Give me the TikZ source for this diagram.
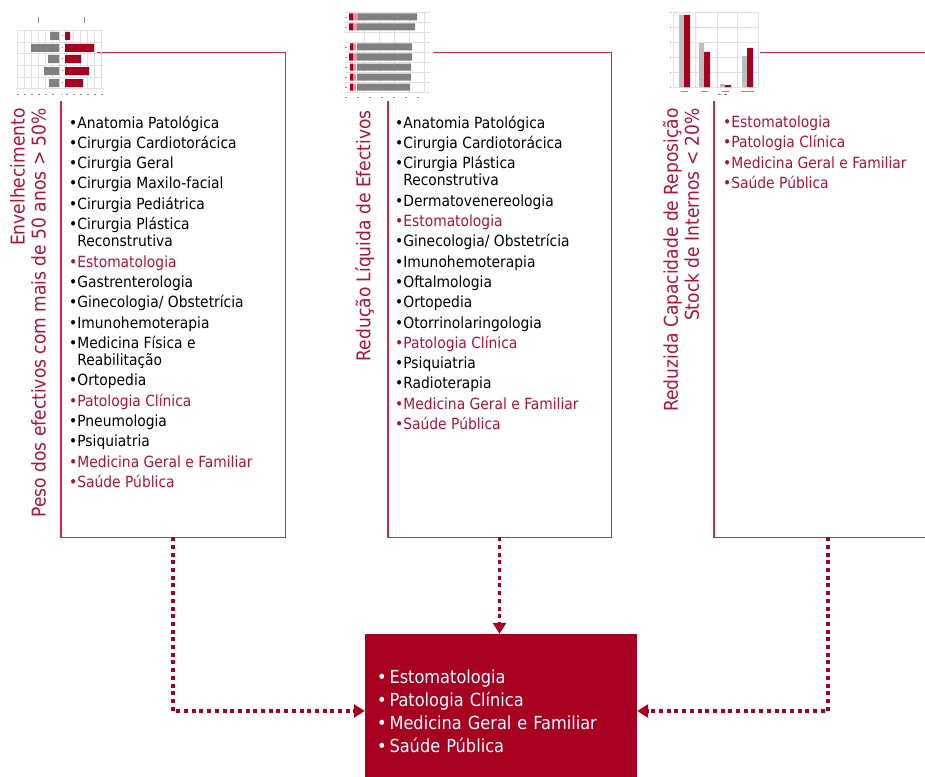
\documentclass[tikz,border=0pt]{standalone}
\usepackage{fontspec}
\setmainfont{DejaVu Sans Condensed}
\usetikzlibrary{arrows.meta,positioning,calc}
\definecolor{SaudeRed}{RGB}{168,0,32}
\definecolor{SaudeText}{RGB}{178,18,50}
\definecolor{SaudeLine}{RGB}{212,36,74}
\definecolor{ChartGray}{RGB}{128,128,128}
\definecolor{ChartLight}{RGB}{190,190,190}
\definecolor{ChartPink}{RGB}{228,150,160}
\newcommand{\spec}[1]{•#1}
\newcommand{\keyspec}[1]{\textcolor{SaudeText}{•#1}}
\newcommand{\wrapline}{\\[-3pt]\phantom{•}}

\begin{document}
\begin{tikzpicture}[
  x=1pt, y=-1pt,
  frame/.style={draw=none, inner sep=0pt, minimum height=484pt},
  frameline/.style={draw=SaudeLine, line width=1.4pt},
  list/.style={anchor=north west, align=left, inner sep=0pt,
    font=\fontsize{15.4}{20.3}\selectfont},
  axis/.style={rotate=90, anchor=north east, align=right, inner sep=0pt,
    text=SaudeText, font=\fontsize{19}{21}\selectfont},
  result/.style={fill=SaudeRed, text=white, align=left, inner xsep=12pt,
    text width=248pt, minimum height=154pt, font=\fontsize{18}{23}\selectfont},
  flow/.style={-{Triangle[length=11pt,width=13pt]}, draw=SaudeRed,
    line width=3.5pt, dash pattern=on 4pt off 3.7pt},
  chartgrid/.style={draw=black!12, line width=0.4pt},
  chartlabel/.style={draw=black!45, line width=0.8pt}
]
\useasboundingbox (0,0) rectangle (925,776);

% frames round the three lists
\node[frame, minimum width=224pt] (box1) at (173,295) {};
\node[frame, minimum width=223pt] (box2) at (499.5,295) {};
\node[frame, minimum width=228pt] (box3) at (828,295) {};
\draw[frameline] ([xshift=36pt]box1.north west) -- (box1.north east) -- (box1.south east)
  -- (box1.south west) -- ([yshift=-48pt]box1.north west);
\draw[frameline] ([xshift=45pt]box2.north west) -- (box2.north east) -- (box2.south east)
  -- (box2.south west) -- ([yshift=-48pt]box2.north west);
\draw[frameline] ([xshift=46pt]box3.north west) -- (box3.north east) -- (box3.south east)
  -- (box3.south west) -- ([yshift=-48pt]box3.north west);

% chart 1: age pyramid
\draw[chartgrid] (17,30) -- (103,30) (17,42) -- (103,42) (17,53) -- (103,53)
  (17,65) -- (103,65) (17,77) -- (103,77) (17,88) -- (103,88);
\draw[chartgrid] (17,30) -- (17,88) (24,30) -- (24,88) (31,30) -- (31,88)
  (38,30) -- (38,88) (45,30) -- (45,88) (52,30) -- (52,88) (59,30) -- (59,88)
  (66,30) -- (66,88) (73,30) -- (73,88) (80,30) -- (80,88) (87,30) -- (87,88)
  (94,30) -- (94,88) (101,30) -- (101,88);
\draw[chartlabel] (38,17) -- (38,23) (84,17) -- (84,23);
\fill[ChartGray] (50,32) rectangle (59,40) (31,44) rectangle (59,52)
  (48,55) rectangle (59,63) (44,67) rectangle (59,75) (49,79) rectangle (59,87);
\fill[SaudeRed] (65,32) rectangle (70,40) (65,44) rectangle (94,52)
  (65,55) rectangle (81,63) (65,67) rectangle (89,75) (65,79) rectangle (83,87);
\draw[chartlabel] (61.5,35) -- (62.5,35) (61.5,47) -- (62.5,47) (61.5,58) -- (62.5,58)
  (61.5,70) -- (62.5,70) (61.5,82) -- (62.5,82);
\draw[chartlabel] (17,94) -- (19,94) (24,94) -- (26,94) (31,94) -- (33,94)
  (38,94) -- (40,94) (45,94) -- (47,94) (52,94) -- (54,94) (61,94) -- (62,94)
  (66,94) -- (68,94) (73,94) -- (75,94) (80,94) -- (82,94) (87,94) -- (89,94)
  (94,94) -- (96,94) (101,94) -- (103,94);

% chart 2: net reduction bars
\draw[chartgrid] (345,12) -- (430,12) (345,22) -- (430,22) (345,32) -- (430,32)
  (345,42) -- (430,42) (345,52) -- (430,52) (345,62) -- (430,62)
  (345,72) -- (430,72) (345,82) -- (430,82) (345,92) -- (430,92);
\draw[chartgrid] (364,12) -- (364,92) (379,12) -- (379,92) (394,12) -- (394,92)
  (409,12) -- (409,92) (424,12) -- (424,92);
\fill[ChartGray] (357,13.5) rectangle (417,20.5) (357,23.5) rectangle (415,30.5)
  (357,43.5) rectangle (412,50.5) (357,53.5) rectangle (412,60.5)
  (357,63.5) rectangle (411,70.5) (357,73.5) rectangle (411,80.5)
  (357,83.5) rectangle (410,90.5);
\fill[ChartPink] (352,13.5) rectangle (358,20.5) (352,23.5) rectangle (357,30.5)
  (352,43.5) rectangle (356,50.5) (352,53.5) rectangle (357,60.5)
  (352,63.5) rectangle (356,70.5) (352,73.5) rectangle (356,80.5)
  (352,83.5) rectangle (356,90.5);
\fill[SaudeRed] (349,13.5) rectangle (353,20.5) (349,23.5) rectangle (353,30.5)
  (350,43.5) rectangle (353,50.5) (349,53.5) rectangle (353,60.5)
  (350,63.5) rectangle (353,70.5) (350,73.5) rectangle (353,80.5)
  (350,83.5) rectangle (353,90.5);
\draw[chartlabel] (345,17) -- (347,17) (345,27) -- (347,27) (345,47) -- (347,47)
  (345,57) -- (347,57) (345,67) -- (347,67) (345,77) -- (347,77) (345,87) -- (347,87);
\draw[chartlabel] (345,97) -- (347,97) (357,97) -- (359,97) (369,97) -- (371,97)
  (381,97) -- (383,97) (393,97) -- (395,97) (405,97) -- (407,97) (417,97) -- (419,97);

% chart 3: replacement capacity
\draw[chartgrid] (673,12) -- (758,12) (673,27) -- (758,27) (673,42) -- (758,42)
  (673,57) -- (758,57) (673,72) -- (758,72) (673,87) -- (758,87);
\draw[chartgrid] (673,12) -- (673,87) (695,12) -- (695,87) (717,12) -- (717,87)
  (737,12) -- (737,87) (758,12) -- (758,87);
\fill[ChartLight] (679,15) rectangle (684,87) (699,43) rectangle (704,87)
  (720,84) rectangle (725,87) (742,56) rectangle (747,87);
\fill[SaudeRed] (684,15) rectangle (690,87) (704,52) rectangle (710,87)
  (725,85) rectangle (731,87) (747,48) rectangle (753,87);
\draw[chartlabel] (670,12) -- (671,12) (670,27) -- (671,27) (670,42) -- (671,42)
  (670,57) -- (671,57) (670,72) -- (671,72) (670,87) -- (671,87);
\draw[chartlabel] (681,91) -- (688,91) (701,91) -- (708,91) (722,91) -- (729,91)
  (741,91) -- (754,91) (718,94) -- (721,94) (724,94) -- (727,94);

% rotated criteria
\node[axis] (label1) at (10,108) {Envelhecimento\\Peso dos efectivos com mais de 50 anos > 50\%};
\node[axis] (label2) at (355,110) {Redução Líquida de Efectivos};
\node[axis] (label3) at (663,108) {Reduzida Capacidade de Reposição\\Stock de Internos < 20\%};

% specialty lists
\node[list] (list1) at (69,115.5) {\spec{Anatomia Patológica}\\
  \spec{Cirurgia Cardiotorácica}\\
  \spec{Cirurgia Geral}\\
  \spec{Cirurgia Maxilo-facial}\\
  \spec{Cirurgia Pediátrica}\\
  \spec{Cirurgia Plástica}\wrapline Reconstrutiva\\
  \keyspec{Estomatologia}\\
  \spec{Gastrenterologia}\\
  \spec{Ginecologia/ Obstetrícia}\\
  \spec{Imunohemoterapia}\\
  \spec{Medicina Física e}\wrapline Reabilitação\\
  \spec{Ortopedia}\\
  \keyspec{Patologia Clínica}\\
  \spec{Pneumologia}\\
  \spec{Psiquiatria}\\
  \keyspec{Medicina Geral e Familiar}\\
  \keyspec{Saúde Pública}};
\node[list] (list2) at (395,115.5) {\spec{Anatomia Patológica}\\
  \spec{Cirurgia Cardiotorácica}\\
  \spec{Cirurgia Plástica}\wrapline Reconstrutiva\\
  \spec{Dermatovenereologia}\\
  \keyspec{Estomatologia}\\
  \spec{Ginecologia/ Obstetrícia}\\
  \spec{Imunohemoterapia}\\
  \spec{Oftalmologia}\\
  \spec{Ortopedia}\\
  \spec{Otorrinolaringologia}\\
  \keyspec{Patologia Clínica}\\
  \spec{Psiquiatria}\\
  \spec{Radioterapia}\\
  \keyspec{Medicina Geral e Familiar}\\
  \keyspec{Saúde Pública}};
\node[list] (list3) at (723,115.5) {\keyspec{Estomatologia}\\
  \keyspec{Patologia Clínica}\\
  \keyspec{Medicina Geral e Familiar}\\
  \keyspec{Saúde Pública}};

% common specialties
\node[result] (result) at (501,711) {•\,Estomatologia\\•\,Patologia Clínica\\
  •\,Medicina Geral e Familiar\\•\,Saúde Pública};

\draw[flow] (box1.south) |- (result.west);
\draw[flow] (box2.south) -- (box2.south |- result.north);
\draw[flow] (box3.south) |- (result.east);
\end{tikzpicture}
\end{document}
